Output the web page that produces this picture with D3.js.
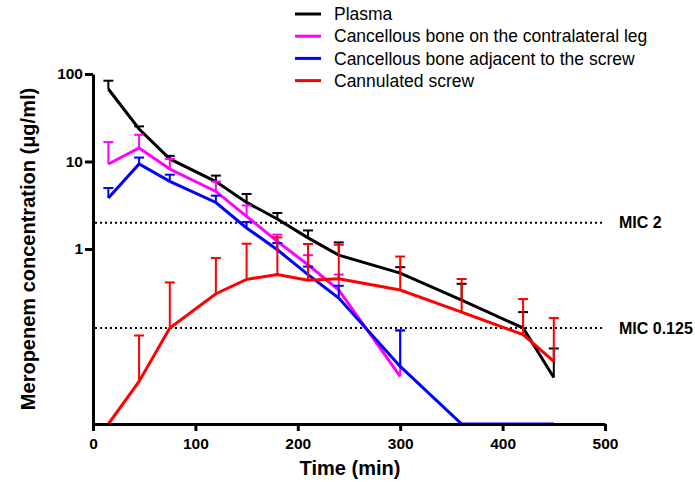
<!DOCTYPE html>
<html>
<head>
<meta charset="utf-8">
<style>
  body { margin: 0; background: #fff; }
  text { font-family: "Liberation Sans", Arial, Helvetica, sans-serif; }
</style>
</head>
<body>
<svg id="graph" width="695" height="482"></svg>

<script src="https://d3js.org/d3.v7.min.js"></script>
<script>
// sampling times (min)
var times = [15, 45, 75, 120, 150, 180, 210, 240, 300, 360, 420, 450];

// means and SD (upper error only), null = not measured, 0 = below axis
var plasma      = [67.4, 23.5, 10.7, 5.9, 3.41, 2.2, 1.34, 0.85, 0.53, 0.26, 0.125, 0.034];
var plasmaSD    = [16.4, 1.7, 0.9, 1.0, 0.84, 0.38, 0.29, 0.34, 0.09, 0.14, 0.065, 0.039];
var contra      = [9.36, 14.3, 8.2, 4.55, 2.36, 1.22, 0.66, 0.34, 0.035, null, null, null];
var contraSD    = [7.3, 5.9, 2.5, 1.35, 0.79, 0.24, 0.19, 0.17, 0.082, null, null, null];
var adjacent    = [3.83, 9.36, 5.93, 3.4, 1.74, 0.98, 0.51, 0.275, 0.0455, 0, 0, 0];
var adjacentSD  = [1.15, 1.74, 1.14, 0.67, 0.30, 0.19, 0.12, 0.105, 0.072, 0, 0, 0];
var screw       = [0, 0.0307, 0.125, 0.308, 0.45, 0.51, 0.44, 0.458, 0.34, 0.19, 0.105, 0.052];
var screwSD     = [0, 0.072, 0.29, 0.48, 0.70, 0.85, 0.70, 0.66, 0.48, 0.264, 0.163, 0.111];

var seriesNames = ["Plasma", "Cancellous bone on the contralateral leg", "Cancellous bone adjacent to the screw", "Cannulated screw"];
var seriesColors = ["#000000", "#ff00ff", "#0000ff", "#ff0000"];

var xTicks = [0, 100, 200, 300, 400, 500];
var yTicks = [1, 10, 100];
var micLevels = [2, 0.125];
var micLabels = ["MIC 2", "MIC 0.125"];

var svg = d3.select("svg");

var x = d3.scaleLinear()
    .domain([0, 500])
    .range([93, 605]);

var yMin = 0.01;
var y = d3.scaleLog()
    .domain([yMin, 100])
    .range([424, 74]);

function yv(v) { return y(Math.max(v, yMin)); }

// MIC dotted lines
micLevels.forEach(function (m, i) {
  svg.append("line")
      .attr("x1", x(0) + 2)
      .attr("x2", x(500))
      .attr("y1", y(m))
      .attr("y2", y(m))
      .attr("stroke", "#000")
      .attr("stroke-width", 2)
      .attr("stroke-dasharray", "2,3");
  svg.append("text")
      .attr("x", 619)
      .attr("y", y(m))
      .attr("dy", "0.35em")
      .attr("font-size", 16)
      .attr("font-weight", "bold")
      .text(micLabels[i]);
});

var all = [
  [plasma, plasmaSD],
  [contra, contraSD],
  [adjacent, adjacentSD],
  [screw, screwSD]
];

var line = d3.line()
    .x(function (d) { return x(d.t); })
    .y(function (d) { return yv(d.v); });

all.forEach(function (s, i) {
  var pts = [];
  for (var k = 0; k < times.length; k++) {
    if (s[0][k] !== null) pts.push({t: times[k], v: s[0][k], sd: s[1][k]});
  }
  var g = svg.append("g");

  // upper error bars
  pts.filter(function (d) { return d.sd > 0; }).forEach(function (d) {
    var top = yv(d.v + d.sd);
    g.append("line")
        .attr("x1", x(d.t)).attr("x2", x(d.t))
        .attr("y1", yv(d.v)).attr("y2", top)
        .attr("stroke", seriesColors[i])
        .attr("stroke-width", 2);
    g.append("line")
        .attr("x1", x(d.t) - 5).attr("x2", x(d.t) + 5)
        .attr("y1", top).attr("y2", top)
        .attr("stroke", seriesColors[i])
        .attr("stroke-width", 2);
  });

  g.append("path")
      .datum(pts)
      .attr("fill", "none")
      .attr("stroke", seriesColors[i])
      .attr("stroke-width", 3)
      .attr("stroke-linejoin", "miter")
      .attr("d", line);
});

// axes
var xAxis = svg.append("g")
    .attr("transform", "translate(0,424)")
    .call(d3.axisBottom(x).tickValues(xTicks).tickSize(7).tickSizeOuter(0));
xAxis.select(".domain").attr("stroke-width", 3);
xAxis.selectAll(".tick line").attr("stroke-width", 3);
xAxis.selectAll(".tick text")
    .attr("font-size", 15.5)
    .attr("font-weight", "bold")
    .attr("font-family", "Liberation Sans, Arial, sans-serif")
    .attr("fill", "#000")
    .attr("dy", "0.95em");

var yAxis = svg.append("g")
    .attr("transform", "translate(93,0)")
    .call(d3.axisLeft(y).tickValues(yTicks).tickFormat(d3.format("d")).tickSize(8).tickSizeOuter(0));
yAxis.select(".domain").attr("stroke-width", 3);
yAxis.selectAll(".tick line").attr("stroke-width", 3);
yAxis.selectAll(".tick text")
    .attr("font-size", 15.5)
    .attr("font-weight", "bold")
    .attr("font-family", "Liberation Sans, Arial, sans-serif")
    .attr("fill", "#000")
    .attr("x", -10);

svg.append("text")
    .attr("x", 350)
    .attr("y", 475)
    .attr("text-anchor", "middle")
    .attr("font-size", 20)
    .attr("font-weight", "bold")
    .text("Time (min)");

svg.append("text")
    .attr("transform", "translate(35,249) rotate(-90)")
    .attr("text-anchor", "middle")
    .attr("font-size", 20)
    .attr("font-weight", "bold")
    .text("Meropenem concentration (μg/ml)");

// legend
seriesNames.forEach(function (n, i) {
  var ly = 14 + i * 22.2;
  svg.append("line")
      .attr("x1", 295).attr("x2", 321)
      .attr("y1", ly).attr("y2", ly)
      .attr("stroke", seriesColors[i])
      .attr("stroke-width", 3);
  svg.append("text")
      .attr("x", 334)
      .attr("y", ly)
      .attr("dy", "0.35em")
      .attr("font-size", 17.5)
      .text(n);
});
</script>
</body>
</html>
